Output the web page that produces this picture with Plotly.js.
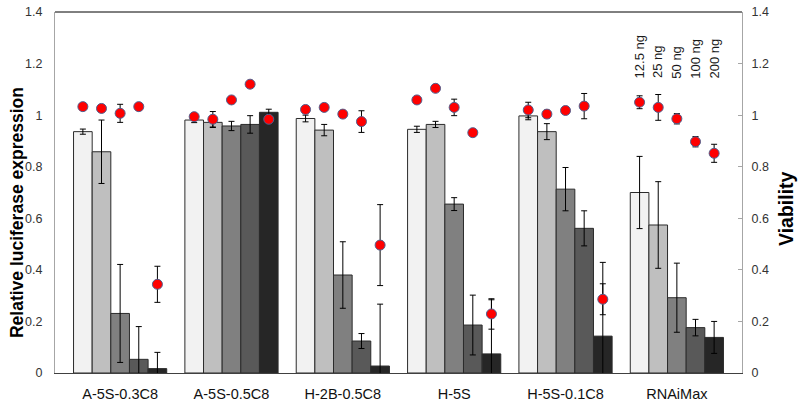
<!DOCTYPE html>
<html>
<head>
<meta charset="utf-8">
<script src="https://cdn.plot.ly/plotly-3.0.1.min.js"></script>
<style>html,body{margin:0;padding:0;background:#fff;}#chart{width:800px;height:408px;}</style>
</head>
<body>
<div id="chart"></div>
<script>
// ---- data ----
const categories = ['A-5S-0.3C8','A-5S-0.5C8','H-2B-0.5C8','H-5S','H-5S-0.1C8','RNAiMax'];
const doses = ['12.5 ng','25 ng','50 ng','100 ng','200 ng'];

// relative luciferase expression (bars), per dose across categories
const expr12_5 = [0.936, 0.981, 0.987, 0.945, 0.997, 0.700];
const expr25   = [0.858, 0.972, 0.942, 0.964, 0.936, 0.574];
const expr50   = [0.231, 0.958, 0.380, 0.655, 0.713, 0.292];
const expr100  = [0.053, 0.964, 0.124, 0.186, 0.561, 0.176];
const expr200  = [0.017, 1.011, 0.027, 0.074, 0.143, 0.138];

const exprErr12_5 = [0.010, 0.010, 0.013, 0.012, 0.015, 0.140];
const exprErr25   = [0.123, 0.020, 0.022, 0.012, 0.031, 0.168];
const exprErr50   = [0.190, 0.018, 0.129, 0.025, 0.084, 0.134];
const exprErr100  = [0.127, 0.034, 0.029, 0.116, 0.068, 0.032];
const exprErr200  = [0.063, 0.012, 0.240, 0.210, 0.286, 0.062];

// viability (red points)
const via12_5 = [1.033, 0.994, 1.022, 1.059, 1.020, 1.050];
const via25   = [1.026, 0.984, 1.030, 1.104, 1.004, 1.030];
const via50   = [1.007, 1.059, 1.004, 1.030, 1.018, 0.986];
const via100  = [1.033, 1.120, 0.975, 0.932, 1.035, 0.897];
const via200  = [0.344, 0.984, 0.496, 0.229, 0.286, 0.852];

const viaErr12_5 = [0.008, 0.010, 0.008, 0.008, 0.030, 0.025];
const viaErr25   = [0.010, 0.030, 0.008, 0.012, 0.015, 0.050];
const viaErr50   = [0.035, 0.008, 0.008, 0.032, 0.008, 0.020];
const viaErr100  = [0.008, 0.008, 0.042, 0.008, 0.049, 0.020];
const viaErr200  = [0.070, 0.010, 0.157, 0.059, 0.060, 0.035];

const yTitleLeft = 'Relative luciferase expression';
const yTitleRight = 'Viability';

// ---- styles ----
const barColors = ['#f2f2f2', '#bfbfbf', '#808080', '#595959', '#262626'];
const FONT = 'Liberation Sans, Arial, Helvetica, sans-serif';
const BARGAP = 0.163;
const XPAD = 0.085;

const exprSeries = [expr12_5, expr25, expr50, expr100, expr200];
const exprErrs = [exprErr12_5, exprErr25, exprErr50, exprErr100, exprErr200];
const viaSeries = [via12_5, via25, via50, via100, via200];
const viaErrs = [viaErr12_5, viaErr25, viaErr50, viaErr100, viaErr200];

const traces = [];
doses.forEach((d, i) => {
  traces.push({
    type: 'bar', name: d, x: categories, y: exprSeries[i],
    marker: {color: barColors[i], line: {color: '#2b2b2b', width: 1}},
    error_y: {type: 'data', array: exprErrs[i], visible: true, color: '#000', thickness: 1, width: 3},
    offsetgroup: 'g' + i, hoverinfo: 'y'
  });
});
doses.forEach((d, i) => {
  traces.push({
    type: 'scatter', mode: 'markers', name: d + ' viability', x: categories, y: viaSeries[i],
    yaxis: 'y2',
    marker: {color: '#ff0000', size: 10, line: {color: '#50608f', width: 1}},
    error_y: {type: 'data', array: viaErrs[i], visible: true, color: '#000', thickness: 1, width: 3},
    offsetgroup: 'g' + i, cliponaxis: true
  });
});

const W = 800, H = 408;
const margin = {l: 55, r: 58, t: 12, b: 35};
const plotW = W - margin.l - margin.r;
const span = categories.length + 2 * XPAD;
const barPx = plotW / span * (1 - BARGAP) / doses.length;

const annotations = doses.map((d, i) => ({
  x: categories[categories.length - 1], xref: 'x', y: 1.135, yref: 'y',
  text: d, textangle: -90, showarrow: false,
  xanchor: 'center', yanchor: 'bottom',
  xshift: (i - (doses.length - 1) / 2) * barPx,
  font: {family: FONT, size: 13, color: '#1a1a1a'}
}));
annotations.push({
  xref: 'paper', yref: 'paper', x: -0.0553, y: 0.443, xanchor: 'center', yanchor: 'middle',
  text: '<b>' + yTitleLeft + '</b>', textangle: -90, showarrow: false,
  font: {family: FONT, size: 17.5, color: '#000'}
});
annotations.push({
  xref: 'paper', yref: 'paper', x: 1.064, y: 0.457, xanchor: 'center', yanchor: 'middle',
  text: '<b>' + yTitleRight + '</b>', textangle: -90, showarrow: false,
  font: {family: FONT, size: 19.5, color: '#000'}
});

const layout = {
  width: W, height: H, margin: margin,
  paper_bgcolor: '#fff', plot_bgcolor: '#fff',
  showlegend: false,
  barmode: 'group', bargap: BARGAP, bargroupgap: 0,
  scattermode: 'group', scattergap: BARGAP,
  font: {family: FONT, color: '#222'},
  xaxis: {
    type: 'category', range: [-0.5 - XPAD, categories.length - 0.5 + XPAD],
    showline: true, linecolor: '#404040', linewidth: 1, ticks: '', showgrid: false,
    ticklabelstandoff: 8,
    tickfont: {family: FONT, size: 14.5, color: '#111'}, zeroline: false
  },
  yaxis: {
    range: [0, 1.4], dtick: 0.2, tick0: 0, showline: true, linecolor: '#a6a6a6', linewidth: 1,
    ticks: '', showgrid: false, zeroline: false, ticklabelstandoff: 9,
    tickfont: {family: FONT, size: 12.5, color: '#333'}
  },
  yaxis2: {
    overlaying: 'y', side: 'right', range: [0, 1.4], dtick: 0.2, tick0: 0,
    showline: true, linecolor: '#a6a6a6', linewidth: 1, ticks: 'inside', ticklen: 4, tickcolor: '#a6a6a6',
    showgrid: false, zeroline: false, ticklabelstandoff: 6,
    tickfont: {family: FONT, size: 12.5, color: '#333'}
  },
  shapes: [{type: 'line', xref: 'paper', yref: 'paper', x0: 0, x1: 1, y0: 1, y1: 1, line: {color: '#000', width: 1}}],
  annotations: annotations
};

Plotly.newPlot('chart', traces, layout, {staticPlot: true, displayModeBar: false});
</script>
</body>
</html>
